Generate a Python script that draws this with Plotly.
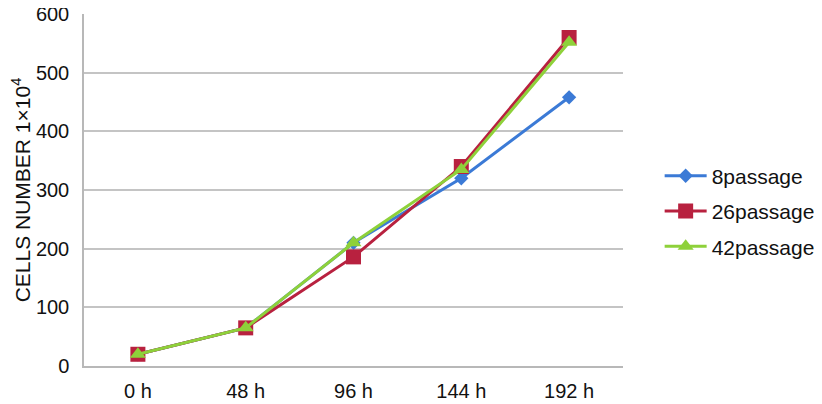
import plotly.graph_objs as go

hours = ["0 h", "48 h", "96 h", "144 h", "192 h"]
p8 = [20, 65, 210, 320, 458]
p26 = [20, 65, 186, 340, 560]
p42 = [20, 65, 210, 335, 552]

fig = go.Figure()
fig.add_trace(go.Scatter(x=hours, y=p8, name="8passage", mode="lines+markers",
                         legendgroup="a",
                         line=dict(color="#3b7ad6", width=3),
                         marker=dict(symbol="diamond", size=11, color="#3b7ad6")))
fig.add_trace(go.Scatter(x=hours, y=p26, name="26passage", mode="lines+markers",
                         legendgroup="b",
                         line=dict(color="#b8213f", width=3),
                         marker=dict(symbol="square", size=15, color="#b8213f")))
fig.add_trace(go.Scatter(x=hours, y=p42, name="42passage", mode="lines+markers",
                         legendgroup="c",
                         line=dict(color="#8ed13a", width=3),
                         marker=dict(symbol="triangle-up", size=14, color="#8ed13a")))

# page body has an 8px margin, so the figure is 8px smaller than the window
fig.update_layout(
    width=814, height=396,
    margin=dict(l=76, r=199, t=6, b=38, autoexpand=False),
    paper_bgcolor="white", plot_bgcolor="white",
    font=dict(family="Liberation Sans, Arial", size=20, color="#111"),
    showlegend=True,
    legend=dict(x=1.068, y=0.44, xanchor="left", yanchor="middle",
                tracegroupgap=5, itemwidth=42, font=dict(size=21)),
    xaxis=dict(range=[-0.5, 4.5], showgrid=False, showline=True, automargin=False,
               linecolor="#b8b8b8", linewidth=1.5,
               ticks="outside", ticklen=6, tickcolor="rgba(0,0,0,0)",
               tickfont=dict(size=20)),
    yaxis=dict(range=[0, 600], dtick=100, showgrid=True, gridcolor="#c4c4c4",
               gridwidth=1.5, showline=True, linecolor="#b8b8b8", linewidth=1.5,
               zeroline=False, automargin=False, ticklabeloverflow="allow",
               ticks="outside", ticklen=9, tickcolor="rgba(0,0,0,0)",
               tickfont=dict(size=20),
               title=dict(text="CELLS NUMBER 1×10<sup>4</sup>", font=dict(size=21),
                          standoff=10)),
)

fig.write_html("out.html")
